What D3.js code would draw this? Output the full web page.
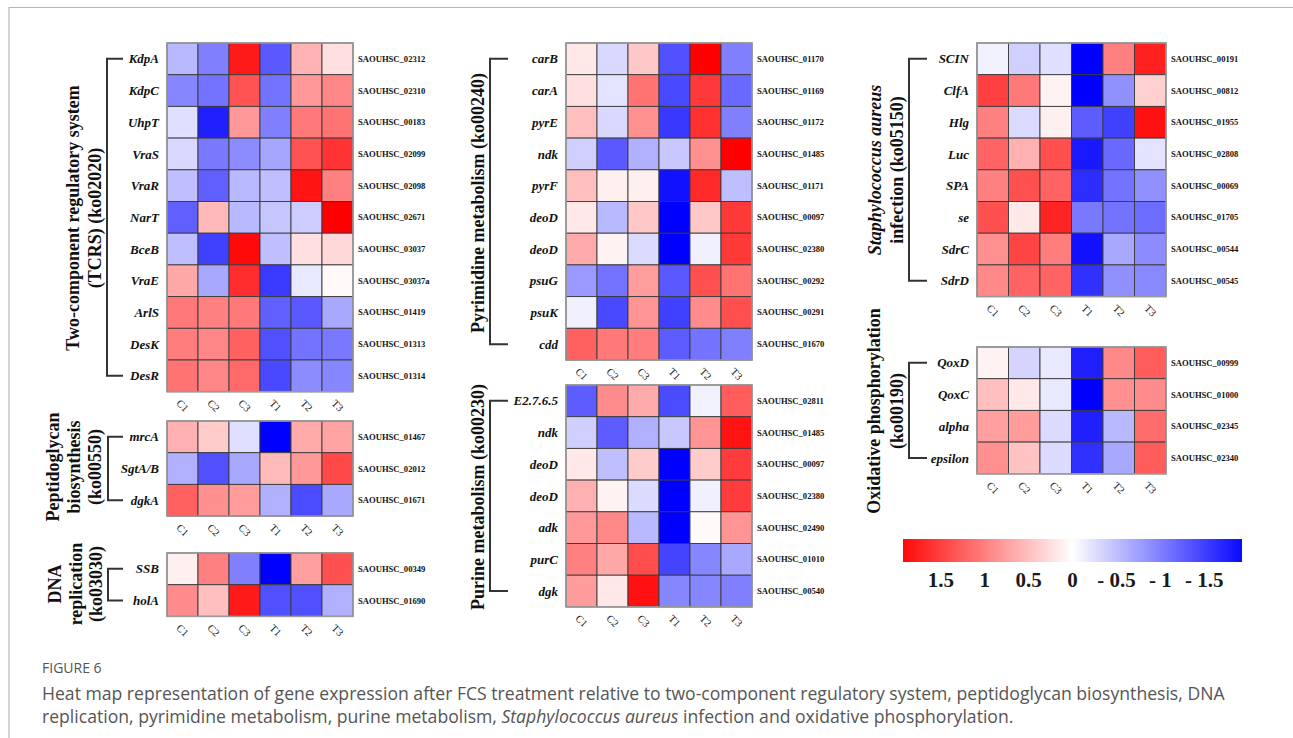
<!DOCTYPE html>
<html><head><meta charset="utf-8">
<script src="https://cdn.jsdelivr.net/npm/d3@7"></script>
<style>
body{margin:0;background:#fff;}
svg{display:block;}
</style></head>
<body>
<svg id="chart" width="1293" height="738"></svg>
<script>
const samples = ["C1","C2","C3","T1","T2","T3"];

// Two-component regulatory system
const tcrsGenes = ["KdpA","KdpC","UhpT","VraS","VraR","NarT","BceB","VraE","ArlS","DesK","DesR"];
const tcrsIds = ["SAOUHSC_02312","SAOUHSC_02310","SAOUHSC_00183","SAOUHSC_02099","SAOUHSC_02098","SAOUHSC_02671","SAOUHSC_03037","SAOUHSC_03037a","SAOUHSC_01419","SAOUHSC_01313","SAOUHSC_01314"];
const tcrsValues = [
  [-0.55,-1.0,1.8,-1.3,0.6,0.25],
  [-0.95,-1.1,1.35,-1.1,0.8,0.95],
  [-0.25,-1.75,0.8,-1.0,1.05,1.1],
  [-0.3,-1.05,-0.9,-0.7,1.35,1.6],
  [-0.5,-1.25,-0.55,-0.5,1.85,1.0],
  [-1.25,0.55,-0.55,-0.45,-0.4,2.0],
  [-0.5,-1.5,1.92,-0.5,0.25,0.3],
  [0.68,-0.68,1.65,-1.55,-0.18,0.05],
  [1.05,1.0,1.05,-1.25,-1.3,-0.68],
  [1.02,0.95,1.25,-1.37,-1.1,-1.05],
  [1.1,0.95,1.18,-1.43,-0.9,-0.95]
];

// Peptidoglycan biosynthesis
const pepGenes = ["mrcA","SgtA/B","dgkA"];
const pepIds = ["SAOUHSC_01467","SAOUHSC_02012","SAOUHSC_01671"];
const pepValues = [
  [0.62,0.4,-0.25,-2.0,0.67,0.73],
  [-0.62,-1.37,-0.68,0.54,0.8,1.43],
  [1.25,0.87,0.78,-0.62,-1.42,-0.68]
];

// DNA replication
const dnaGenes = ["SSB","holA"];
const dnaIds = ["SAOUHSC_00349","SAOUHSC_01690"];
const dnaValues = [
  [0.12,1.0,-1.0,-2.0,0.75,1.37],
  [0.9,0.5,1.8,-1.37,-1.37,-0.62]
];

// Pyrimidine metabolism
const pyrGenes = ["carB","carA","pyrE","ndk","pyrF","deoD","deoD","psuG","psuK","cdd"];
const pyrIds = ["SAOUHSC_01170","SAOUHSC_01169","SAOUHSC_01172","SAOUHSC_01485","SAOUHSC_01171","SAOUHSC_00097","SAOUHSC_02380","SAOUHSC_00292","SAOUHSC_00291","SAOUHSC_01670"];
const pyrValues = [
  [0.18,-0.3,0.43,-1.37,2.0,-1.0],
  [0.25,-0.22,1.1,-1.43,1.55,-1.18],
  [0.5,-0.3,0.87,-1.56,1.62,-1.0],
  [-0.37,-1.3,-0.62,-0.43,0.87,2.0],
  [0.5,0.12,0.12,-1.87,1.68,-0.5],
  [0.18,-0.55,0.43,-2.0,0.43,1.56],
  [0.67,0.1,-0.28,-2.0,-0.12,1.56],
  [-0.8,-1.1,0.78,-1.3,1.37,1.1],
  [-0.12,-1.43,0.84,-1.5,0.9,1.37],
  [1.25,1.05,1.02,-1.28,-1.1,-1.0]
];

// Purine metabolism
const purGenes = ["E2.7.6.5","ndk","deoD","deoD","adk","purC","dgk"];
const purIds = ["SAOUHSC_02811","SAOUHSC_01485","SAOUHSC_00097","SAOUHSC_02380","SAOUHSC_02490","SAOUHSC_01010","SAOUHSC_00540"];
const purValues = [
  [-1.28,0.9,0.67,-1.42,-0.1,1.28],
  [-0.37,-1.28,-0.62,-0.43,0.84,1.85],
  [0.18,-0.5,0.4,-2.0,0.4,1.53],
  [0.62,0.1,-0.28,-2.0,-0.12,1.53],
  [0.8,0.93,-0.55,-2.0,0.04,0.84],
  [1.0,0.68,1.4,-1.47,-0.95,-0.68],
  [0.78,0.18,1.87,-0.95,-0.95,-1.0]
];

// Staphylococcus aureus infection
const saGenes = ["SCIN","ClfA","Hlg","Luc","SPA","se","SdrC","SdrD"];
const saIds = ["SAOUHSC_00191","SAOUHSC_00812","SAOUHSC_01955","SAOUHSC_02808","SAOUHSC_00069","SAOUHSC_01705","SAOUHSC_00544","SAOUHSC_00545"];
const saValues = [
  [-0.1,-0.37,-0.25,-2.0,1.0,1.75],
  [1.5,1.05,0.1,-2.0,-0.87,0.37],
  [1.0,-0.28,0.12,-1.28,-1.5,1.87],
  [1.22,0.62,1.37,-1.8,-1.18,-0.22],
  [1.0,1.37,1.22,-1.65,-1.1,-0.87],
  [1.37,0.18,1.72,-1.05,-1.1,-1.15],
  [0.87,1.47,1.02,-1.87,-0.68,-0.9],
  [0.93,1.22,1.22,-1.62,-0.87,-0.93]
];

// Oxidative phosphorylation
const oxGenes = ["QoxD","QoxC","alpha","epsilon"];
const oxIds = ["SAOUHSC_00999","SAOUHSC_01000","SAOUHSC_02345","SAOUHSC_02340"];
const oxValues = [
  [0.1,-0.34,-0.18,-1.75,0.93,1.28],
  [0.5,0.18,-0.18,-2.0,0.87,0.9],
  [0.75,0.78,-0.28,-1.75,-0.55,1.15],
  [0.87,0.47,-0.28,-1.62,-0.68,1.28]
];

const legendTicks = [1.5,1,0.5,0,-0.5,-1,-1.5];
const legendTickLabels = ["1.5","1","0.5","0","- 0.5","- 1","- 1.5"];

// ---------------------------------------------------------------
const svg = d3.select("#chart");
const color = d3.scaleLinear().domain([-2,0,2]).range(["#0000ff","#ffffff","#ff0000"]).clamp(true);
const serif = "'Liberation Serif','Times New Roman',serif";

// frame
svg.append("line").attr("x1",9).attr("x2",1293).attr("y1",7.5).attr("y2",7.5).attr("stroke","#b5b5b5").attr("stroke-width",1.2);
svg.append("line").attr("x1",9).attr("x2",9).attr("y1",7).attr("y2",738).attr("stroke","#b5b5b5").attr("stroke-width",1.2);

const panels = [
  {genes:tcrsGenes, ids:tcrsIds, values:tcrsValues, x0:167, y0:43, cw:31, ch:31.7, bx:107, bxe:123,
   title:[["Two-component regulatory system"],["(TCRS) (ko02020)"]], tx:[73,95], ty:218},
  {genes:pepGenes, ids:pepIds, values:pepValues, x0:167, y0:421, cw:31, ch:31.7, bx:108, bxe:123,
   title:[["Peptidoglycan"],["biosynthesis"],["(ko00550)"]], tx:[53,74,95], ty:467},
  {genes:dnaGenes, ids:dnaIds, values:dnaValues, x0:167, y0:553, cw:31, ch:31.7, bx:108, bxe:123,
   title:[["DNA"],["replication"],["(ko03030)"]], tx:[55,76,96], ty:584},
  {genes:pyrGenes, ids:pyrIds, values:pyrValues, x0:566, y0:43, cw:31, ch:31.7, bx:490, bxe:508,
   title:[["Pyrimidine metabolism (ko00240)"]], tx:[478], ty:203},
  {genes:purGenes, ids:purIds, values:purValues, x0:566, y0:385, cw:31, ch:31.7, bx:490, bxe:508,
   title:[["Purine metabolism (ko00230)"]], tx:[478], ty:497},
  {genes:saGenes, ids:saIds, values:saValues, x0:977, y0:43, cw:31.5, ch:31.7, bx:909, bxe:927,
   title:[["Staphylococcus aureus", true],["infection (ko05150)"]], tx:[875,897], ty:170},
  {genes:oxGenes, ids:oxIds, values:oxValues, x0:977, y0:347, cw:31.5, ch:31.7, bx:909, bxe:927,
   title:[["Oxidative phosphorylation"],["(ko00190)"]], tx:[874,897], ty:411}
];

panels.forEach(p => {
  const n = p.genes.length;
  const x = d3.scaleBand().domain(samples).range([p.x0, p.x0 + samples.length*p.cw]);
  const y = d3.scaleBand().domain(d3.range(n)).range([p.y0, p.y0 + n*p.ch]);
  const g = svg.append("g");
  const cells = [];
  p.values.forEach((row,i) => row.forEach((v,j) => cells.push({i, s:samples[j], v})));
  g.selectAll("rect.cell").data(cells).join("rect")
    .attr("class","cell")
    .attr("x", d => x(d.s)).attr("y", d => y(d.i))
    .attr("width", x.bandwidth()).attr("height", y.bandwidth())
    .attr("fill", d => color(d.v))
    .attr("stroke","#3a3a3a").attr("stroke-width",0.9);
  g.append("rect")
    .attr("x", x.range()[0]).attr("y", y.range()[0])
    .attr("width", x.range()[1]-x.range()[0]).attr("height", y.range()[1]-y.range()[0])
    .attr("fill","none").attr("stroke","#9a9a9a").attr("stroke-width",1.6);

  // gene labels
  g.selectAll("text.gene").data(p.genes).join("text")
    .attr("x", p.x0 - 8).attr("y", (d,i) => y(i) + y.bandwidth()/2)
    .attr("dy","0.35em").attr("text-anchor","end")
    .style("font-family", serif).style("font-weight","bold").style("font-style","italic")
    .style("font-size","13px").attr("fill","#111").text(d => d);

  // id labels
  g.selectAll("text.id").data(p.ids).join("text")
    .attr("x", x.range()[1] + 5).attr("y", (d,i) => y(i) + y.bandwidth()/2)
    .attr("dy","0.35em").attr("text-anchor","start")
    .style("font-family", serif).style("font-weight","bold")
    .style("font-size","8.6px").attr("fill","#111").text(d => d);

  // column labels (axis)
  const ax = g.append("g").attr("transform", `translate(0,${y.range()[1]})`)
    .call(d3.axisBottom(x).tickSize(0).tickPadding(0));
  ax.select(".domain").remove();
  ax.selectAll("text")
    .attr("y", 0).attr("dy", 0)
    .attr("transform","translate(0,14) rotate(45)")
    .attr("text-anchor","middle").attr("dominant-baseline","central")
    .style("font-family", serif).style("font-size","10.5px").attr("fill","#222");

  // bracket
  const ya = y(0) + y.bandwidth()/2, yb = y(n-1) + y.bandwidth()/2;
  g.append("path")
    .attr("d", `M${p.bxe},${ya}H${p.bx}V${yb}H${p.bxe}`)
    .attr("fill","none").attr("stroke","#333").attr("stroke-width",2);

  // title
  p.title.forEach((t,k) => {
    const tx = p.tx[k];
    g.append("text")
      .attr("x", tx).attr("y", p.ty).attr("dy","0.35em")
      .attr("transform", `rotate(-90,${tx},${p.ty})`)
      .attr("text-anchor","middle")
      .style("font-family", serif).style("font-weight","bold")
      .style("font-style", t[1] ? "italic" : "normal")
      .style("font-size","18px").attr("fill","#111").text(t[0]);
  });
});

// legend
const lx0 = 903, lx1 = 1242, ly = 539, lh = 23;
const lscale = d3.scaleLinear().domain([1.93,-1.93]).range([lx0,lx1]);
const defs = svg.append("defs");
const grad = defs.append("linearGradient").attr("id","lg").attr("x1","0%").attr("x2","100%");
d3.range(0,1.0001,0.05).forEach(t => {
  grad.append("stop").attr("offset", (t*100)+"%").attr("stop-color", color(lscale.invert(lx0 + t*(lx1-lx0))));
});
svg.append("rect").attr("x",lx0).attr("y",ly).attr("width",lx1-lx0).attr("height",lh).attr("fill","url(#lg)");
svg.selectAll("text.lt").data(legendTicks).join("text")
  .attr("x", d => lscale(d)).attr("y", 587).attr("text-anchor","middle")
  .style("font-family", serif).style("font-weight","bold").style("font-size","21px")
  .attr("fill","#1a1a1a").text((d,i) => legendTickLabels[i]);

// caption
const sans = "'Open Sans','Noto Sans',sans-serif";
svg.append("text").attr("x",42).attr("y",673)
  .style("font-family",sans).style("font-size","14px").attr("fill","#555").text("FIGURE 6");
svg.append("text").attr("x",42).attr("y",700)
  .style("font-family",sans).style("font-size","17.6px").attr("fill","#555")
  .text("Heat map representation of gene expression after FCS treatment relative to two-component regulatory system, peptidoglycan biosynthesis, DNA");
const l2 = svg.append("text").attr("x",42).attr("y",723)
  .style("font-family",sans).style("font-size","17.6px").attr("fill","#555");
l2.append("tspan").text("replication, pyrimidine metabolism, purine metabolism, ");
l2.append("tspan").style("font-style","italic").text("Staphylococcus aureus");
l2.append("tspan").text(" infection and oxidative phosphorylation.");
</script>
</body></html>
